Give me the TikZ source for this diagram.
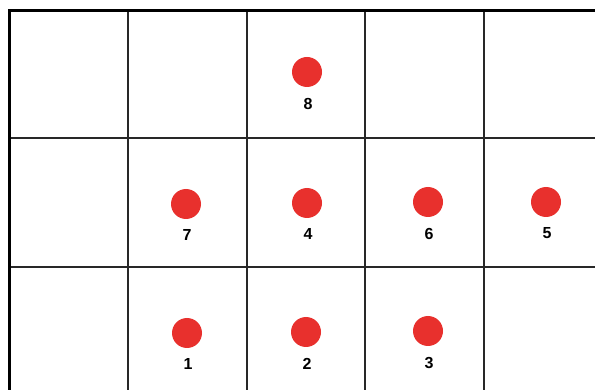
\documentclass[tikz,border=0pt]{standalone}
\usepackage{fontspec}
\setmainfont{Liberation Sans}
\usetikzlibrary{positioning}

\definecolor{dotred}{RGB}{232,48,45}
\definecolor{gridgray}{RGB}{40,40,40}

\begin{document}
\begin{tikzpicture}[
    x=1pt,
    y=-1pt,
    gridline/.style={draw=gridgray, line width=1.8pt},
    borderline/.style={draw=black, line width=3pt},
    dot/.style={
        circle,
        fill=dotred,
        minimum size=30pt,
        inner sep=0pt
    },
    numlabel/.style={
        font=\fontsize{16}{16}\selectfont\bfseries,
        inner sep=0pt,
        below=10.5pt of #1,
        xshift=1pt
    }
]

\useasboundingbox (0,0) rectangle (595,390);
\clip (0,0) rectangle (595,390);
\fill[white] (0,0) rectangle (595,390);

% Grid
\foreach \gx in {128,247,365,484}
    \draw[gridline] (\gx,11) -- (\gx,400);
\foreach \gy in {138,267}
    \draw[gridline] (9.5,\gy) -- (605,\gy);
\draw[borderline] (9.5,400) -- (9.5,11) -- (605,11);

% Dots
\node[dot] (dot8) at (307,72) {};
\node[dot] (dot7) at (186,204) {};
\node[dot] (dot4) at (307,203) {};
\node[dot] (dot6) at (428,202) {};
\node[dot] (dot5) at (546,202) {};
\node[dot] (dot1) at (187,333) {};
\node[dot] (dot2) at (306,332) {};
\node[dot] (dot3) at (428,331) {};

% Labels
\foreach \n in {1,...,8}
    \node[numlabel=dot\n] (label\n) {\n};

\end{tikzpicture}
\end{document}
